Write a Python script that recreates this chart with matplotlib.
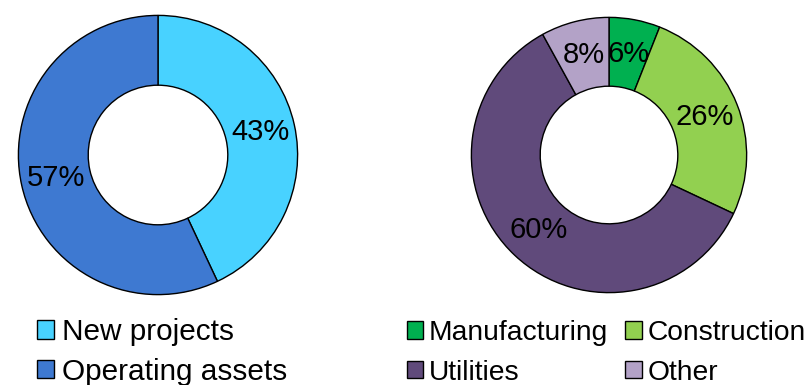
import matplotlib
matplotlib.use("Agg")
import matplotlib.pyplot as plt
from matplotlib.patches import Patch

plt.rcParams['font.family'] = ['Liberation Sans', 'DejaVu Sans']

left_labels = ["New projects", "Operating assets"]
left_values = [43, 57]
left_colors = ["#48D2FF", "#3E79D1"]

right_labels = ["Manufacturing", "Construction", "Utilities", "Other"]
right_values = [6, 26, 60, 8]
right_colors = ["#00B050", "#92D050", "#604A7B", "#B3A2C7"]

W, H = 807, 385
fig = plt.figure(figsize=(W / 100, H / 100), dpi=100)
FS = 21


def donut(cx, cy, r, values, colors):
    ax = fig.add_axes([(cx - r) / W, 1 - (cy + r) / H, 2 * r / W, 2 * r / H])
    ax.pie(values, colors=colors, startangle=90, counterclock=False, radius=1,
           wedgeprops=dict(width=0.5, edgecolor="black", linewidth=1.0),
           autopct=lambda p: f"{p:.0f}%", pctdistance=0.75,
           textprops=dict(fontsize=FS, color="black"))
    ax.set_xlim(-1.01, 1.01)
    ax.set_ylim(-1.01, 1.01)
    ax.set_aspect("auto")
    ax.axis("off")
    return ax


donut(158, 155, 141, left_values, left_colors)
donut(609, 155, 139, right_values, right_colors)

lh = [Patch(facecolor=c, edgecolor="black", linewidth=1.0) for c in left_colors]
fig.legend(lh, left_labels, loc="upper left", bbox_to_anchor=(37 / W, 1 - 318 / H),
           frameon=False, fontsize=21.4, handlelength=0.56, handleheight=0.56,
           handletextpad=0.27, labelspacing=0.4, borderpad=0, borderaxespad=0)

rh = [Patch(facecolor=c, edgecolor="black", linewidth=1.0) for c in right_colors]
order = [0, 2, 1, 3]
fig.legend([rh[i] for i in order], [right_labels[i] for i in order], ncol=2,
           loc="upper left", bbox_to_anchor=(407 / W, 1 - 320 / H),
           frameon=False, fontsize=20.3, handlelength=0.57, handleheight=0.57,
           handletextpad=0.2, labelspacing=0.48, columnspacing=0.62,
           borderpad=0, borderaxespad=0)

fig.savefig("out.png", dpi=100)
